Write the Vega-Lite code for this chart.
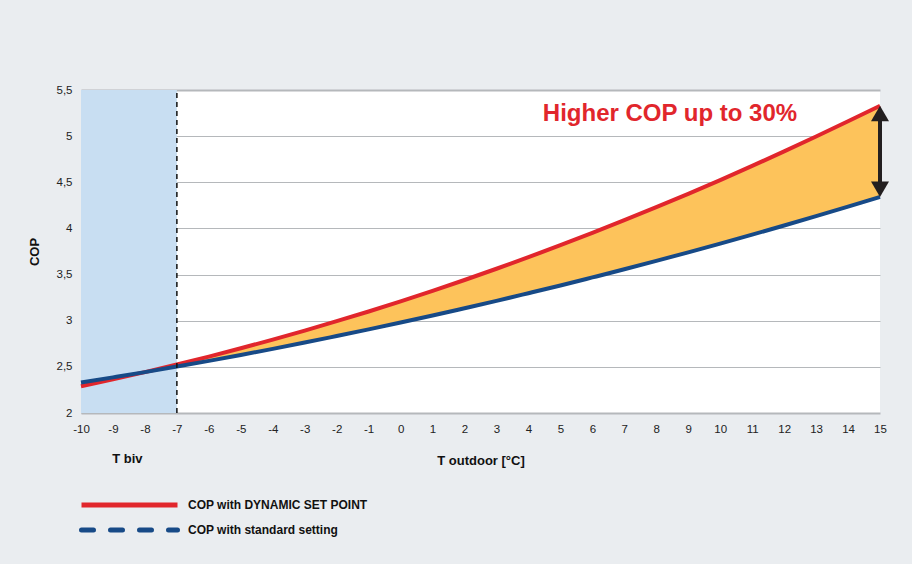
{
  "$schema": "https://vega.github.io/schema/vega-lite/v6.json",
  "width": 799,
  "height": 323,
  "autosize": {"type": "none"},
  "padding": {"left": 81, "top": 90, "right": 32, "bottom": 151},
  "background": "#EAEDF0",
  "config": {
    "view": {"fill": "#FFFFFF", "stroke": null},
    "font": "Liberation Sans",
    "axis": {"labelOverlap": false, "labelBound": false, "labelFlush": false}
  },
  "datasets": {
    "cop": [
      {"x": -10, "COP with DYNAMIC SET POINT": 2.290, "COP with standard setting": 2.330},
      {"x": -9, "COP with DYNAMIC SET POINT": 2.365, "COP with standard setting": 2.386},
      {"x": -8, "COP with DYNAMIC SET POINT": 2.443, "COP with standard setting": 2.443},
      {"x": -7, "COP with DYNAMIC SET POINT": 2.525, "COP with standard setting": 2.503},
      {"x": -6, "COP with DYNAMIC SET POINT": 2.611, "COP with standard setting": 2.565},
      {"x": -5, "COP with DYNAMIC SET POINT": 2.701, "COP with standard setting": 2.629},
      {"x": -4, "COP with DYNAMIC SET POINT": 2.795, "COP with standard setting": 2.695},
      {"x": -3, "COP with DYNAMIC SET POINT": 2.893, "COP with standard setting": 2.763},
      {"x": -2, "COP with DYNAMIC SET POINT": 2.995, "COP with standard setting": 2.834},
      {"x": -1, "COP with DYNAMIC SET POINT": 3.100, "COP with standard setting": 2.906},
      {"x": 0, "COP with DYNAMIC SET POINT": 3.210, "COP with standard setting": 2.980},
      {"x": 1, "COP with DYNAMIC SET POINT": 3.324, "COP with standard setting": 3.056},
      {"x": 2, "COP with DYNAMIC SET POINT": 3.441, "COP with standard setting": 3.135},
      {"x": 3, "COP with DYNAMIC SET POINT": 3.563, "COP with standard setting": 3.215},
      {"x": 4, "COP with DYNAMIC SET POINT": 3.688, "COP with standard setting": 3.298},
      {"x": 5, "COP with DYNAMIC SET POINT": 3.818, "COP with standard setting": 3.382},
      {"x": 6, "COP with DYNAMIC SET POINT": 3.951, "COP with standard setting": 3.469},
      {"x": 7, "COP with DYNAMIC SET POINT": 4.089, "COP with standard setting": 3.557},
      {"x": 8, "COP with DYNAMIC SET POINT": 4.230, "COP with standard setting": 3.648},
      {"x": 9, "COP with DYNAMIC SET POINT": 4.375, "COP with standard setting": 3.741},
      {"x": 10, "COP with DYNAMIC SET POINT": 4.524, "COP with standard setting": 3.836},
      {"x": 11, "COP with DYNAMIC SET POINT": 4.677, "COP with standard setting": 3.933},
      {"x": 12, "COP with DYNAMIC SET POINT": 4.835, "COP with standard setting": 4.032},
      {"x": 13, "COP with DYNAMIC SET POINT": 4.996, "COP with standard setting": 4.133},
      {"x": 14, "COP with DYNAMIC SET POINT": 5.161, "COP with standard setting": 4.236},
      {"x": 15, "COP with DYNAMIC SET POINT": 5.329, "COP with standard setting": 4.341}
    ],
    "bivZone": [{"x": -10, "xEnd": -7, "cop": 2, "copEnd": 5.5}],
    "bivLine": [{"x": -7, "cop": 2, "copEnd": 5.5}],
    "bivLabel": [{"x": -8.55, "cop": 1.455, "label": "T biv"}],
    "arrow": [{"x": 15, "top": 5.33, "bottom": 4.34, "shaftTop": 5.24, "shaftBottom": 4.43}],
    "note": [{"x": 4.45, "cop": 5.167, "text": "Higher COP up to 30%"}]
  },
  "encoding": {
    "x": {"field": "x", "type": "quantitative", "scale": {"domain": [-10, 15], "nice": false, "zero": false},
      "axis": {"values": [-10,-9,-8,-7,-6,-5,-4,-3,-2,-1,0,1,2,3,4,5,6,7,8,9,10,11,12,13,14,15],
        "labelExpr": "'' + datum.value", "labelOverlap": false, "labelFlush": false,
        "title": "T outdoor [°C]", "grid": false, "ticks": false, "domain": false,
        "labelFontSize": 11.5, "labelColor": "#222222", "labelPadding": 10,
        "titleFontSize": 13, "titleFontWeight": "bold", "titleColor": "#111111", "titlePadding": 20}},
    "y": {"field": "cop", "type": "quantitative", "scale": {"domain": [2, 5.5], "nice": false, "zero": false},
      "axis": {"values": [2, 2.5, 3, 3.5, 4, 4.5, 5, 5.5], "title": "COP",
        "labelExpr": "replace(format(datum.value, '~g'), '.', ',')", "labelFlush": false,
        "grid": true, "gridColor": "#B5B8BB",
        "gridWidth": {"condition": {"test": "datum.value == 2 || datum.value == 5.5", "value": 2}, "value": 1},
        "ticks": false, "domain": true, "domainColor": "#B5B8BB", "domainWidth": 1,
        "labelFontSize": 11.5, "labelColor": "#222222", "labelPadding": 9,
        "titleFontSize": 13, "titleFontWeight": "bold", "titleColor": "#111111", "titlePadding": 15}}
  },
  "layer": [
    {
      "data": {"name": "bivZone"},
      "mark": {"type": "rect", "fill": "#C8DEF2"},
      "encoding": {
        "x2": {"field": "xEnd"},
        "y2": {"field": "copEnd"}
      }
    },
    {
      "data": {"name": "cop"},
      "transform": [{"filter": "datum.x >= -7"}],
      "mark": {"type": "area", "fill": "#FDC35B", "interpolate": "monotone"},
      "encoding": {
        "y": {"field": "COP with standard setting", "type": "quantitative"},
        "y2": {"field": "COP with DYNAMIC SET POINT"}
      }
    },
    {
      "data": {"name": "cop"},
      "transform": [{"fold": ["COP with DYNAMIC SET POINT", "COP with standard setting"], "as": ["series", "cop"]}],
      "mark": {"type": "line", "strokeWidth": 4, "interpolate": "monotone"},
      "encoding": {
        "color": {
          "field": "series", "type": "nominal",
          "scale": {"domain": ["COP with DYNAMIC SET POINT", "COP with standard setting"], "range": ["#E1262C", "#174A87"]},
          "legend": {
            "orient": "none", "legendX": -2, "legendY": 408, "title": null,
            "symbolType": "stroke", "symbolSize": 9216, "symbolStrokeWidth": 5, "clipHeight": 14,
            "labelFontSize": 12, "labelFontWeight": "bold", "labelColor": "#111111", "labelLimit": 400,
            "labelOffset": 8, "rowPadding": 11,
            "encode": {"symbols": {"update": {
              "strokeDash": {"signal": "datum.value === 'COP with standard setting' ? [12, 17] : [1, 0]"},
              "strokeCap": {"signal": "datum.value === 'COP with standard setting' ? 'round' : 'butt'"}
            }}}
          }
        }
      }
    },
    {
      "data": {"name": "bivLine"},
      "mark": {"type": "rule", "color": "#111111", "strokeWidth": 1.5, "strokeDash": [5, 4]},
      "encoding": {
        "y2": {"field": "copEnd"}
      }
    },
    {
      "data": {"name": "bivLabel"},
      "mark": {"type": "text", "fontSize": 13, "fontWeight": "bold", "color": "#111111", "baseline": "alphabetic", "align": "center"},
      "encoding": {
        "text": {"field": "label"}
      }
    },
    {
      "data": {"name": "arrow"},
      "mark": {"type": "rule", "color": "#231F20", "strokeWidth": 4},
      "encoding": {
        "y": {"field": "shaftTop", "type": "quantitative"},
        "y2": {"field": "shaftBottom"}
      }
    },
    {
      "data": {"name": "arrow"},
      "mark": {"type": "point", "shape": "triangle-up", "filled": true, "color": "#231F20", "opacity": 1, "size": 324, "yOffset": 7.8},
      "encoding": {
        "y": {"field": "top", "type": "quantitative"}
      }
    },
    {
      "data": {"name": "arrow"},
      "mark": {"type": "point", "shape": "triangle-down", "filled": true, "color": "#231F20", "opacity": 1, "size": 324, "yOffset": -7.8},
      "encoding": {
        "y": {"field": "bottom", "type": "quantitative"}
      }
    },
    {
      "data": {"name": "note"},
      "mark": {"type": "text", "fontSize": 24, "fontWeight": "bold", "color": "#E1262C", "align": "left", "baseline": "alphabetic"},
      "encoding": {
        "text": {"field": "text"}
      }
    }
  ]
}
